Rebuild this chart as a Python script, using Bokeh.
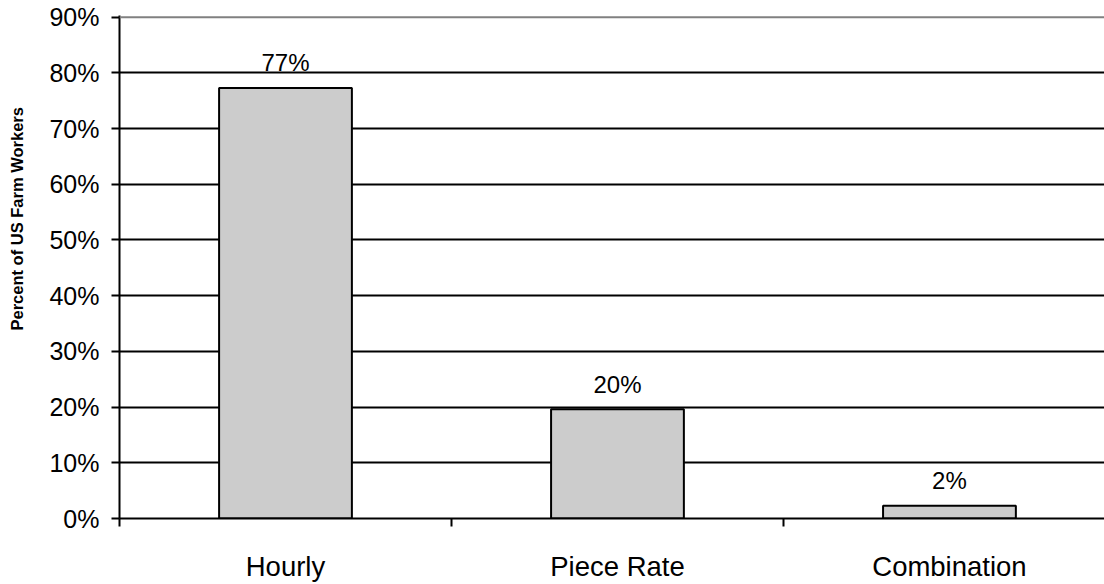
from bokeh.plotting import figure
from bokeh.models import FixedTicker, PrintfTickFormatter, Range1d, Span, ColumnDataSource, Title
from bokeh.core.properties import value
from bokeh.embed import file_html
from bokeh.resources import INLINE

# Pay type shares of US farm workers (percent)
categories = ["Hourly", "Piece Rate", "Combination"]
shares = [77.3, 19.6, 2.3]
y_ticks = [0, 10, 20, 30, 40, 50, 60, 70, 80, 90]

FONT = "Liberation Sans"

positions = [i + 0.5 for i in range(len(categories))]
labels = [f"{round(v)}%" for v in shares]
source = ColumnDataSource(dict(x=positions, top=shares, label=labels))

p = figure(
    width=1104, height=584,
    x_range=Range1d(0, 2.967), y_range=Range1d(0, 90.3),
    output_backend="svg", toolbar_location=None,
    min_border_left=119, min_border_right=0,
    min_border_top=15, min_border_bottom=66,
)
p.outline_line_color = None
p.background_fill_color = "white"
p.border_fill_color = "white"

# horizontal gridlines, black; the top boundary line is grey
p.xgrid.grid_line_color = None
p.ygrid.ticker = FixedTicker(ticks=y_ticks[1:-1])
p.ygrid.grid_line_color = "black"
p.ygrid.grid_line_width = 2
p.add_layout(Span(location=y_ticks[-1], dimension="width",
                  line_color="#808080", line_width=2))

p.vbar(x="x", top="top", width=0.4, source=source,
       fill_color="#cccccc", line_color="black", line_width=2)

p.text(x="x", y="top", text="label", source=source,
       text_font=value(FONT), text_font_size="24px", text_color="black",
       text_align="center", text_baseline="alphabetic", y_offset=-25)

# x axis: category names at bar centres, tick marks between categories
xa = p.xaxis[0]
xa.ticker = FixedTicker(ticks=positions, minor_ticks=[0, 1, 2, 3])
xa.major_label_overrides = {pos: name for pos, name in zip(positions, categories)}
xa.major_tick_out = 0
xa.major_tick_in = 0
xa.minor_tick_out = 8
xa.minor_tick_in = 0
xa.minor_tick_line_color = "black"
xa.minor_tick_line_width = 2
xa.axis_line_color = "black"
xa.axis_line_width = 2
xa.major_label_text_font = FONT
xa.major_label_text_font_size = "27.5px"
xa.major_label_text_color = "black"
xa.major_label_standoff = 24

# y axis
ya = p.yaxis[0]
ya.ticker = FixedTicker(ticks=y_ticks)
ya.formatter = PrintfTickFormatter(format="%d%%")
ya.major_tick_out = 8
ya.major_tick_in = 0
ya.minor_tick_line_color = None
ya.major_tick_line_color = "black"
ya.major_tick_line_width = 2
ya.axis_line_color = "black"
ya.axis_line_width = 2
ya.major_label_text_font = FONT
ya.major_label_text_font_size = "25px"
ya.major_label_text_color = "black"
ya.major_label_standoff = 12
# blank axis label: only widens the gap before the title
ya.axis_label = " "
ya.axis_label_text_font_size = "2px"
ya.axis_label_standoff = 13

# y axis title, left of the tick labels and a little above the middle
p.add_layout(Title(
    text="Percent of US Farm Workers", align="left", offset=188,
    text_font=FONT, text_font_size="16.5px", text_font_style="bold",
    text_color="black", standoff=6,
), "left")

open("out.html", "w").write(file_html(p, INLINE))
